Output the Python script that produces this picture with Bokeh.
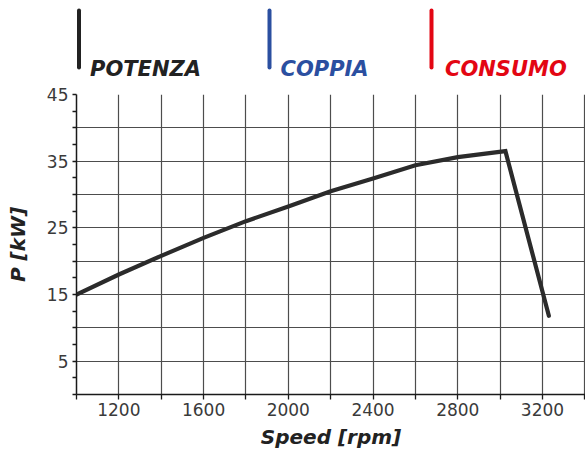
from bokeh.plotting import figure
from bokeh.models import Range1d, FixedTicker, ColumnDataSource
from bokeh.layouts import column
from bokeh.core.properties import value
from bokeh.embed import file_html
from bokeh.resources import INLINE

# ---- data ----
speed_rpm = [1000, 1200, 1400, 1600, 1800, 2000, 2200, 2400, 2600, 2800, 3025, 3230]
power_kw = [15.0, 18.0, 20.8, 23.5, 26.0, 28.2, 30.5, 32.4, 34.4, 35.6, 36.5, 11.8]

x_ticks = [1000, 1200, 1400, 1600, 1800, 2000, 2200, 2400, 2600, 2800, 3000, 3200, 3400]
x_tick_labels = ["", "1200", "", "1600", "", "2000", "", "2400", "", "2800", "", "3200", ""]
y_ticks = [0, 5, 10, 15, 20, 25, 30, 35, 40, 45]
y_tick_labels = ["", "5", "", "15", "", "25", "", "35", "", "45"]
y_minor_ticks = [2.5, 7.5, 12.5, 17.5, 22.5, 27.5, 32.5, 37.5, 42.5]

legend_labels = ["POTENZA", "COPPIA", "CONSUMO"]
legend_colors = ["#222222", "#2b4fa0", "#e30613"]

x_label = "Speed [rpm]"
y_label = "P [kW]"

W = 585
LEFT = 76
TOP_H = 82
MAIN_TOP = 12
MAIN_H = 372

# ---- legend strip (top); x/y in page-like pixel units ----
leg = figure(width=W, height=TOP_H, output_backend="svg", toolbar_location=None,
             x_range=Range1d(78, 78 + (W - LEFT)), y_range=Range1d(TOP_H + 2, 2),
             min_border_left=LEFT, min_border_right=0, min_border_top=0,
             min_border_bottom=0, outline_line_color=None)
leg.axis.visible = False
leg.grid.visible = False
bar_x = [80.5, 271, 433]
text_gap = [11, 11, 13.5]
leg_src = ColumnDataSource(dict(
    x=bar_x, y0=[12] * 3, y1=[69] * 3,
    tx=[bx + g for bx, g in zip(bar_x, text_gap)], ty=[70] * 3,
    text=legend_labels, color=legend_colors))
leg.segment(x0="x", y0="y0", x1="x", y1="y1", color="color", line_width=4,
            line_cap="round", source=leg_src)
leg.text(x="tx", y="ty", text="text", text_color="color", source=leg_src,
         text_font=value("DejaVu Sans"), text_font_style="bold italic",
         text_font_size="21px", text_baseline="alphabetic", text_align="left")

# ---- main chart ----
p = figure(width=W, height=MAIN_H, output_backend="svg", toolbar_location=None,
           x_range=Range1d(1000, 3403), y_range=Range1d(0, 45),
           min_border_left=LEFT, min_border_right=0, min_border_top=MAIN_TOP,
           min_border_bottom=60, outline_line_color=None)

p.line(speed_rpm, power_kw, line_color="#2b2b2b", line_width=4.2,
       line_join="miter", line_cap="round")

p.xaxis.ticker = FixedTicker(ticks=x_ticks)
p.xaxis.major_label_overrides = {t: l for t, l in zip(x_ticks, x_tick_labels)}
p.yaxis.ticker = FixedTicker(ticks=y_ticks, minor_ticks=y_minor_ticks)
p.yaxis.major_label_overrides = {t: l for t, l in zip(y_ticks, y_tick_labels)}

for ax in (p.xaxis, p.yaxis):
    ax.axis_line_color = "#1a1a1a"
    ax.axis_line_width = 1.5
    ax.major_tick_line_color = "#1a1a1a"
    ax.major_tick_line_width = 1.3
    ax.major_tick_in = 0
    ax.major_label_text_font = "DejaVu Sans"
    ax.major_label_text_font_size = "17px"
    ax.major_label_text_color = "#3a3a3a"
    ax.axis_label_text_font = "DejaVu Sans"
    ax.axis_label_text_font_style = "bold italic"
    ax.axis_label_text_font_size = "20px"
    ax.axis_label_text_color = "#222222"

p.xaxis.major_tick_out = 5
p.xaxis.minor_tick_line_color = None
p.xaxis.major_label_standoff = 3
p.xaxis.axis_label = x_label
p.xaxis.axis_label_standoff = 6

p.yaxis.major_tick_out = 4
p.yaxis.minor_tick_out = 4
p.yaxis.minor_tick_in = 0
p.yaxis.minor_tick_line_color = "#1a1a1a"
p.yaxis.minor_tick_line_width = 1.3
p.yaxis.major_label_standoff = 4
p.yaxis.axis_label = y_label
p.yaxis.axis_label_standoff = 14

p.xgrid.ticker = FixedTicker(ticks=x_ticks)
p.ygrid.ticker = FixedTicker(ticks=y_ticks)
for g in (p.xgrid, p.ygrid):
    g.grid_line_color = "#4d4d4d"
    g.grid_line_width = 1.2

layout = column(leg, p, spacing=0)
open("out.html", "w").write(file_html(layout, INLINE))
